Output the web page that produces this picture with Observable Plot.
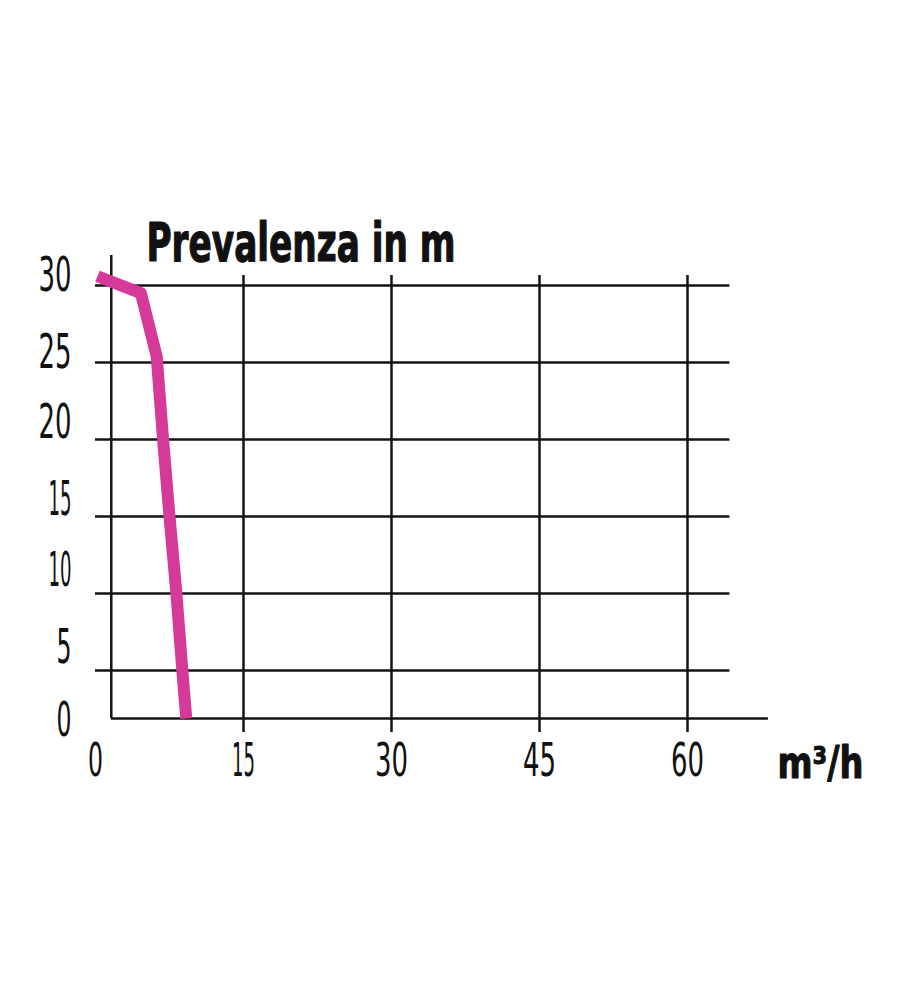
<!DOCTYPE html>
<html>
<head>
<meta charset="utf-8">
<script src="https://cdn.jsdelivr.net/npm/d3@7"></script>
<script src="https://cdn.jsdelivr.net/npm/@observablehq/plot@0.6"></script>
<style>
  body { margin: 0; background: #fff; }
  #chart svg text { font-family: "Liberation Sans Narrow", "DejaVu Sans Condensed", "Roboto Condensed", "Liberation Sans", sans-serif; fill: #111; }
</style>
</head>
<body>
<div id="chart"></div>
<script>
// Pump curve: flow (m³/h) vs head (m)
const flow = [0.2, 4.6, 6.2, 6.85, 7.5, 8.2, 8.8, 9.2];
const head = [30.6, 29.5, 25.4, 20, 15, 10, 5, 0];

const xTicks = [0, 15, 30, 45, 60];
const xGrid = [15, 30, 45, 60];
const yTicksTop = [25, 30];
const yTicksMid = [15, 20];
const yTicksLow = [5, 10];
const yTicksZero = [0];
const yGrid = [5, 10, 15, 20, 25, 30];

const titleText = ["Prevalenza in m"];
const xUnitText = ["m³/h"];

// frame extents in data units
const yAxisAtX = 1.6;
const xAxisEnd = 68.2;
const gridEndX = 64.3;
const yAxisTop = 31.95;
const gridTopY = 30.65;
const tickBottomY = -1.45;

// the drawing squeezes the band between 0 and 5 m
const zeroPos = 1.883;
const squeeze = v => (v >= 5 ? v : zeroPos + v * (5 - zeroPos) / 5);

const curve = flow.map((x, i) => ({x, y: head[i]}));
const ink = "#141414";
const lw = 2.5;
const yLab = {tickSize: 0, tickPadding: 24, fontSize: 48, label: null};

const chart = Plot.plot({
  width: 900,
  height: 1000,
  marginTop: 0,
  marginRight: 0,
  marginLeft: 95,
  marginBottom: 282,
  x: {domain: [0, 60], range: [95, 687], axis: null},
  y: {domain: [0, 30], range: [747, 285], transform: squeeze, axis: null},
  style: {background: "white", overflow: "visible"},
  marks: [
    Plot.ruleY(yGrid, {x1: 0, x2: gridEndX, stroke: ink, strokeWidth: lw}),
    Plot.ruleX(xGrid, {y1: tickBottomY, y2: gridTopY, stroke: ink, strokeWidth: lw}),
    Plot.ruleX([yAxisAtX], {y1: 0, y2: yAxisTop, stroke: ink, strokeWidth: lw}),
    Plot.ruleY([0], {x1: yAxisAtX, x2: xAxisEnd, stroke: ink, strokeWidth: lw}),
    Plot.line(curve, {x: "x", y: "y", stroke: "#d63a98", strokeWidth: 12, strokeLinejoin: "round", strokeLinecap: "butt"}),
    Plot.axisY(yTicksTop, {...yLab, dy: -10}),
    Plot.axisY(yTicksMid, {...yLab, dy: -17}),
    Plot.axisY(yTicksLow, {...yLab, dy: -23}),
    Plot.axisY(yTicksZero, {...yLab, dy: 2}),
    Plot.axisX(xTicks, {tickSize: 0, tickPadding: 25, fontSize: 46, label: null}),
    Plot.text(titleText, {frameAnchor: "top-left", dx: 51, dy: 260, lineAnchor: "bottom", textAnchor: "start", fontSize: 53, fontWeight: "bold", stroke: "#111", strokeWidth: 1.2}),
    Plot.text(xUnitText, {frameAnchor: "bottom-left", dx: 682, dy: 59, lineAnchor: "bottom", textAnchor: "start", fontSize: 44, fontWeight: "bold", stroke: "#111", strokeWidth: 1})
  ]
});

document.getElementById("chart").appendChild(chart);

// condense texts to match the narrow display face of the original
const charW = c => (c === "1" ? 5 : 15);
const labelLen = s => [...s].reduce((a, c) => a + charW(c), 0) + 3 * (s.length - 1);
d3.select(chart).selectAll("text").each(function () {
  const s = this.textContent.trim();
  let len = null;
  if (/^\d+$/.test(s)) len = labelLen(s);
  else if (s === titleText[0]) len = 309;
  else if (s === xUnitText[0]) len = 86;
  if (len != null) {
    this.setAttribute("textLength", len);
    this.setAttribute("lengthAdjust", "spacingAndGlyphs");
  }
});
</script>
</body>
</html>
